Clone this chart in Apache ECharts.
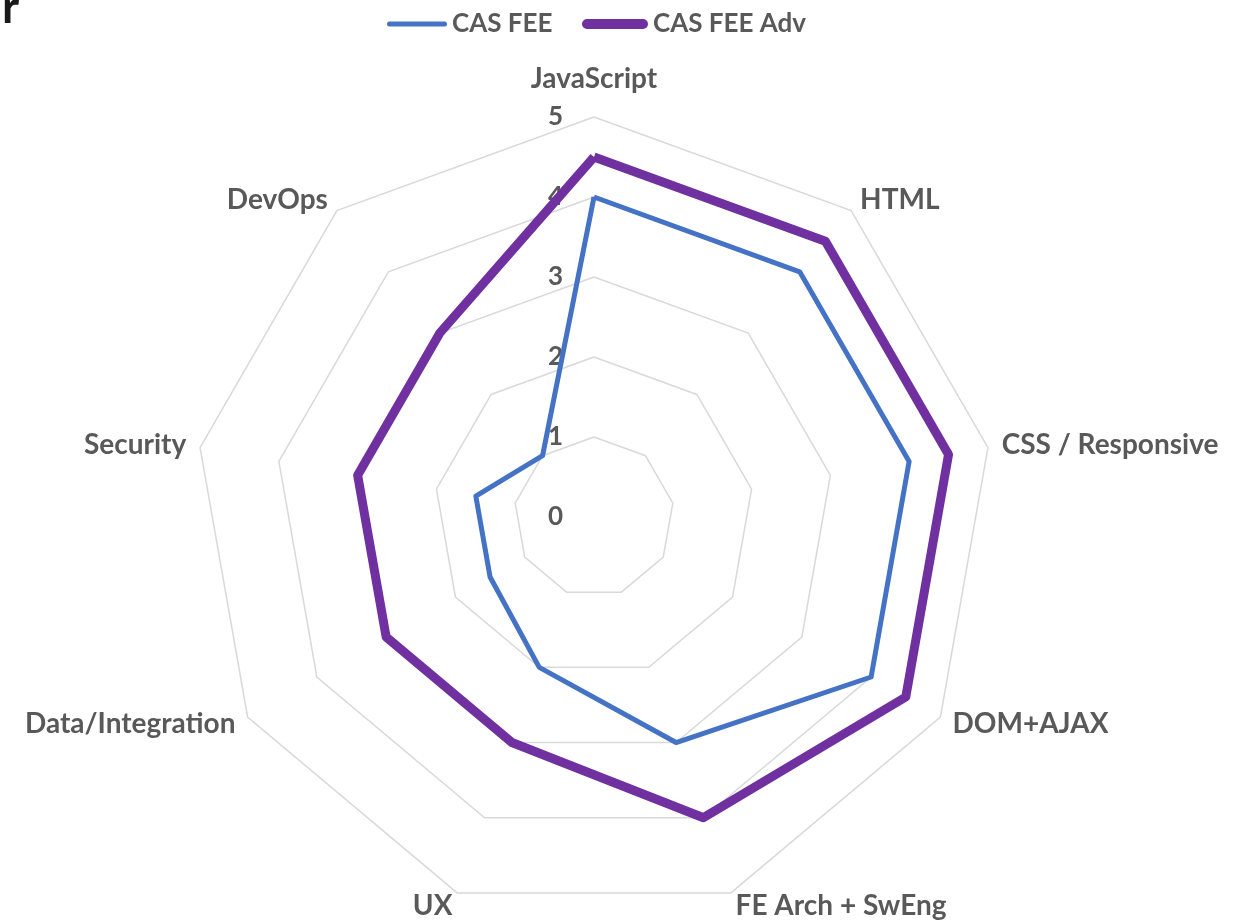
<!DOCTYPE html>
<html>
	<head>
		<meta charset="utf-8" />
		<title>CAS FEE Radar</title>
		<style type="text/css">
			body,
			html,
			#chart {
				width: 100%;
				height: 100%;
				overflow: hidden;
				margin: 0;
				background: #fff;
			}
		</style>
	</head>
	<body>
		<div id="chart"></div>
		<script src="https://cdn.jsdelivr.net/npm/echarts@6/dist/echarts.min.js"></script>
		<script>
			// categories, clockwise starting at the top
			var topics = ['JavaScript', 'HTML', 'CSS / Responsive', 'DOM+AJAX', 'FE Arch + SwEng', 'UX', 'Data/Integration', 'Security', 'DevOps'];
			var seriesNames = ['CAS FEE', 'CAS FEE Adv'];
			var casFee = [4, 4, 4, 4, 3, 2, 1.5, 1.5, 1];
			var casFeeAdv = [4.5, 4.5, 4.5, 4.5, 4, 3, 3, 3, 3];
			var scaleMax = 5;

			// echarts radar goes counter-clockwise, so keep first item and reverse the rest
			function clockwise(arr) {
				return [arr[0]].concat(arr.slice(1).reverse());
			}

			var dom = document.getElementById('chart');
			var myChart = echarts.init(dom);
			var font = 'Lato';
			var grey = '#595959';

			var indicators = clockwise(topics).map(function(name, i) {
				var ind = { name: name, min: 0, max: scaleMax };
				if (i === 0) {
					// only the top axis carries the 0..5 labels
					ind.axisLabel = { show: true };
					ind.nameGap = 24;
				}
				return ind;
			});

			var legendText = { fontFamily: font, fontSize: 26, fontWeight: 'bold', color: grey };

			var option = {
				animation: false,
				title: {
					text: 'r',
					left: 2,
					top: -15,
					padding: 0,
					textStyle: { fontFamily: font, fontSize: 46, fontWeight: 'bold', color: '#1a1a1a' }
				},
				// two legends so each key sits where it does in the original
				legend: [
					{
						top: 6,
						left: 382,
						itemWidth: 60,
						itemHeight: 12,
						textStyle: legendText,
						data: [
							{ name: seriesNames[0], icon: 'path://M2.5,0 L57.5,0 A2.5,2.5 0 0 1 57.5,5 L2.5,5 A2.5,2.5 0 0 1 2.5,0 Z', itemStyle: { color: '#4472C4' } }
						]
					},
					{
						top: 6,
						left: 577,
						itemWidth: 66,
						itemHeight: 12,
						textStyle: legendText,
						data: [
							{ name: seriesNames[1], icon: 'path://M5,0 L61,0 A5,5 0 0 1 61,10 L5,10 A5,5 0 0 1 5,0 Z', itemStyle: { color: '#7030A0' } }
						]
					}
				],
				radar: {
					center: [594, 517],
					radius: 400,
					startAngle: 90,
					splitNumber: 5,
					shape: 'polygon',
					nameGap: 14,
					indicator: indicators,
					axisName: { color: grey, fontFamily: font, fontSize: 28, fontWeight: 'bold' },
					axisLine: { show: false },
					axisTick: { show: false },
					axisLabel: { show: false, color: grey, fontFamily: font, fontSize: 26, fontWeight: 'bold', margin: 31 },
					splitLine: { lineStyle: { color: '#d9d9d9', width: 1.5 } },
					splitArea: { show: false }
				},
				series: [
					{
						type: 'radar',
						symbol: 'none',
						data: [
							{
								name: seriesNames[0],
								value: clockwise(casFee),
								lineStyle: { color: '#4472C4', width: 5, join: 'round' },
								itemStyle: { color: '#4472C4' }
							},
							{
								name: seriesNames[1],
								value: clockwise(casFeeAdv),
								lineStyle: { color: '#7030A0', width: 9, join: 'round' },
								itemStyle: { color: '#7030A0' }
							}
						]
					}
				]
			};
			myChart.setOption(option);
		</script>
	</body>
</html>
